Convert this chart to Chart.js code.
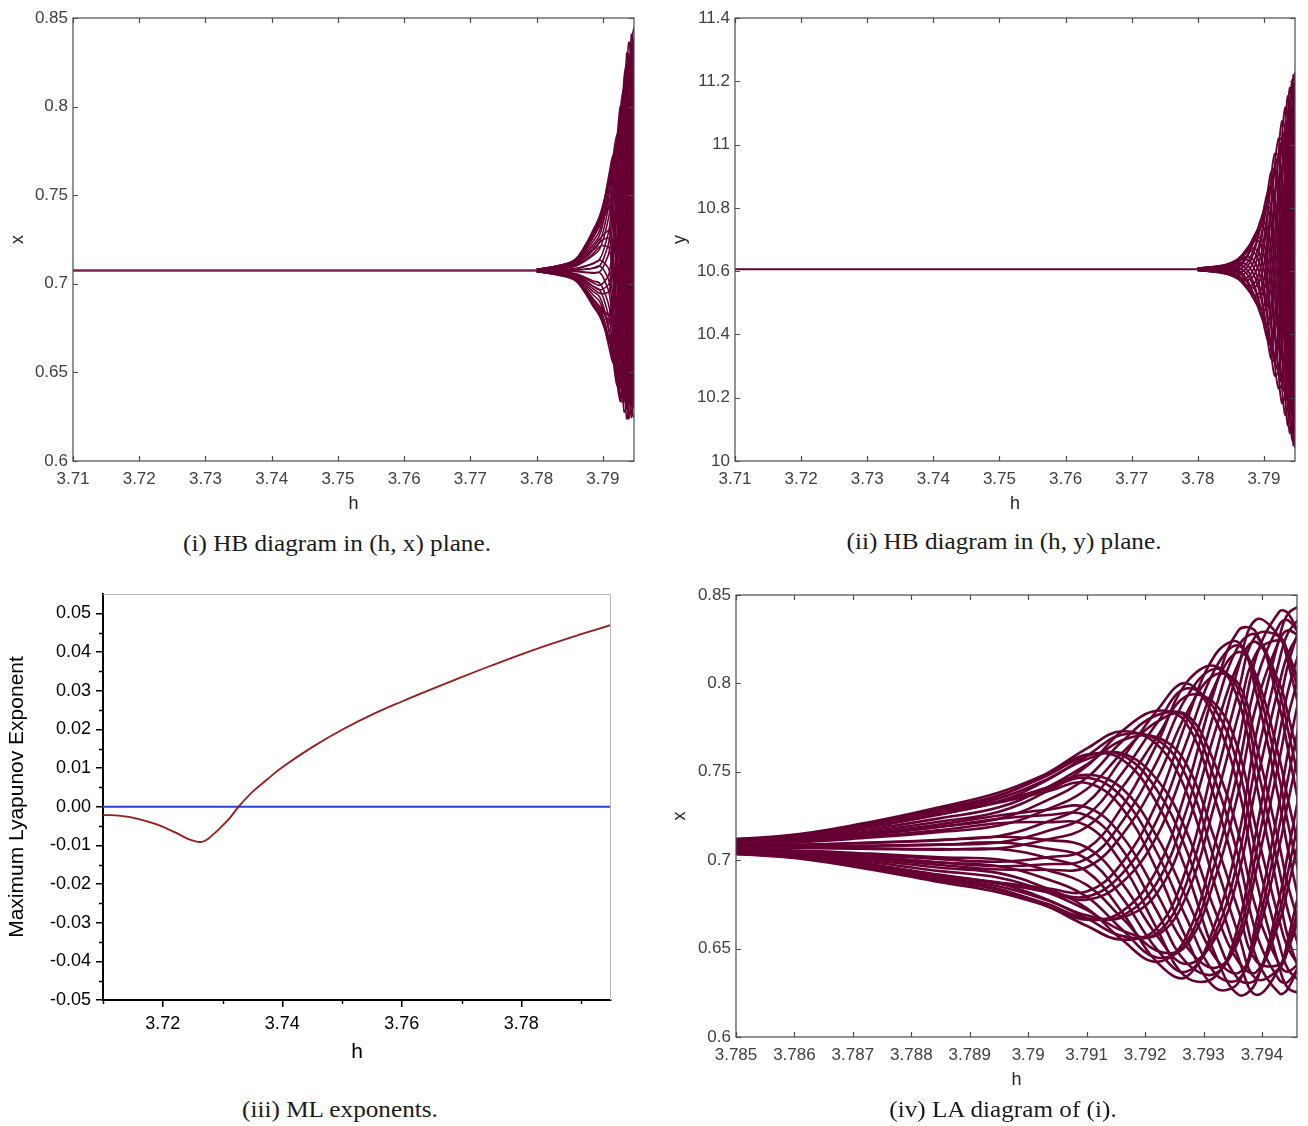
<!DOCTYPE html>
<html>
<head>
<meta charset="utf-8">
<title>HB diagrams</title>
<script src="https://cdn.jsdelivr.net/npm/chart.js@4.4.1/dist/chart.umd.min.js"></script>
<style>
  body { margin: 0; background: #fff; }
  .wrap { position: relative; width: 1308px; height: 1126px; overflow: hidden; background: #fff; }
  canvas { position: absolute; }
  .cap { position: absolute; width: 600px; text-align: center; font-family: "Liberation Serif", "DejaVu Serif", serif; font-size: 24px; line-height: 28px; color: #1a1a1a; transform: scaleX(1.05); }
</style>
</head>
<body>
<div class="wrap">
  <canvas id="hx" width="660" height="520" style="left:0;top:0"></canvas>
  <canvas id="hy" width="648" height="520" style="left:660px;top:0"></canvas>
  <canvas id="mle" width="660" height="500" style="left:0;top:570px"></canvas>
  <canvas id="la" width="648" height="530" style="left:660px;top:570px"></canvas>
  <div class="cap" style="left:37px;top:529px">(i) HB diagram in (h, x) plane.</div>
  <div class="cap" style="left:704px;top:527px">(ii) HB diagram in (h, y) plane.</div>
  <div class="cap" style="left:40px;top:1095px">(iii) ML exponents.</div>
  <div class="cap" style="left:703px;top:1095px">(iv) LA diagram of (i).</div>
</div>
<script>
//-------------------------- data: branches of the HB diagrams ----------------------------

const hGrid = [3.7800, 3.7836, 3.7858, 3.7873, 3.7885, 3.7895, 3.7903, 3.7910, 3.7916,
               3.7922, 3.7927, 3.7932, 3.7936, 3.7939, 3.7943, 3.79445, 3.7947]

// x values, one row per h in hGrid, 12 branches per row
const xBranchA = [
  [.7079,.7081,.7081,.7080,.7077,.7074,.7071,.7069,.7069,.7070,.7073,.7076],
  [.7094,.7104,.7106,.7100,.7088,.7072,.7058,.7048,.7046,.7052,.7065,.7080],
  [.7115,.7133,.7138,.7126,.7101,.7070,.7042,.7023,.7019,.7030,.7055,.7086],
  [.7164,.7207,.7216,.7189,.7134,.7064,.7000,.6957,.6948,.6975,.7030,.7100],
  [.7219,.7287,.7301,.7259,.7170,.7060,.6957,.6889,.6875,.6917,.7006,.7116],
  [.7274,.7363,.7383,.7326,.7209,.7063,.6927,.6837,.6818,.6874,.6991,.7137],
  [.7387,.7487,.7487,.7387,.7215,.7015,.6843,.6743,.6743,.6843,.7015,.7215],
  [.7531,.7631,.7597,.7437,.7196,.6937,.6729,.6629,.6663,.6823,.7064,.7323],
  [.7729,.7729,.7571,.7298,.6982,.6709,.6551,.6551,.6709,.6982,.7298,.7571],
  [.7845,.7655,.7325,.6945,.6615,.6425,.6425,.6615,.6945,.7325,.7655,.7845],
  [.7778,.7393,.6947,.6562,.6339,.6339,.6562,.6947,.7393,.7778,.8001,.8001],
  [.7344,.6856,.6466,.6278,.6342,.6642,.7096,.7584,.7974,.8162,.8098,.7798],
  [.6872,.6445,.6239,.6309,.6637,.7134,.7668,.8095,.8301,.8231,.7903,.7406],
  [.6451,.6239,.6311,.6649,.7160,.7710,.8149,.8361,.8289,.7951,.7440,.6891],
  [.6247,.6392,.6787,.7327,.7867,.8262,.8407,.8262,.7867,.7327,.6787,.6392],
  [.6275,.6559,.7051,.7619,.8111,.8395,.8395,.8111,.7619,.7051,.6559,.6275],
  [.6464,.6920,.7490,.8021,.8371,.8446,.8226,.7770,.7200,.6669,.6320,.6245]
]
const xBranchB = [
  [.7079,.7080,.7080,.7078,.7076,.7073,.7071,.7070,.7070,.7072,.7074,.7077],
  [.7097,.7102,.7100,.7092,.7079,.7066,.7055,.7050,.7052,.7060,.7073,.7086],
  [.7120,.7130,.7127,.7110,.7085,.7058,.7036,.7026,.7029,.7046,.7071,.7098],
  [.7176,.7200,.7192,.7154,.7098,.7037,.6988,.6964,.6972,.7010,.7067,.7128],
  [.7238,.7276,.7263,.7203,.7113,.7016,.6938,.6900,.6913,.6973,.7063,.7160],
  [.7299,.7349,.7332,.7253,.7133,.7004,.6901,.6851,.6868,.6947,.7067,.7196],
  [.7408,.7454,.7408,.7284,.7115,.6946,.6822,.6776,.6822,.6946,.7115,.7284],
  [.7541,.7571,.7483,.7300,.7072,.6860,.6719,.6689,.6777,.6960,.7188,.7401],
  [.7677,.7605,.7408,.7140,.6872,.6675,.6603,.6675,.6872,.7140,.7408,.7605],
  [.7695,.7458,.7135,.6812,.6575,.6488,.6575,.6812,.7135,.7458,.7695,.7782],
  [.7548,.7170,.6792,.6515,.6413,.6515,.6792,.7170,.7548,.7825,.7927,.7825],
  [.7111,.6711,.6448,.6391,.6557,.6900,.7329,.7729,.7992,.8049,.7883,.7540],
  [.6713,.6424,.6363,.6544,.6920,.7389,.7827,.8116,.8177,.7996,.7620,.7151],
  [.6430,.6367,.6553,.6940,.7423,.7873,.8170,.8234,.8047,.7660,.7177,.6727],
  [.6409,.6655,.7081,.7573,.7999,.8245,.8245,.7999,.7573,.7081,.6655,.6409],
  [.6499,.6852,.7335,.7818,.8171,.8300,.8171,.7818,.7335,.6852,.6499,.6370],
  [.6750,.7218,.7719,.8120,.8313,.8248,.7940,.7473,.6971,.6570,.6377,.6443]
]
const xBranchC = [
  [.7078,.7080,.7081,.7080,.7078,.7075,.7072,.7070,.7069,.7070,.7072,.7075],
  [.7090,.7100,.7104,.7100,.7090,.7076,.7062,.7052,.7048,.7052,.7062,.7076],
  [.7106,.7127,.7134,.7127,.7106,.7078,.7050,.7029,.7022,.7029,.7050,.7078],
  [.7146,.7192,.7209,.7192,.7146,.7082,.7019,.6972,.6955,.6972,.7019,.7082],
  [.7189,.7263,.7290,.7263,.7189,.7088,.6987,.6913,.6886,.6913,.6987,.7088],
  [.7234,.7332,.7368,.7332,.7234,.7100,.6966,.6868,.6832,.6868,.6966,.7100],
  [.7335,.7449,.7474,.7402,.7254,.7068,.6895,.6781,.6756,.6828,.6977,.7162],
  [.7466,.7589,.7589,.7466,.7253,.7007,.6794,.6672,.6672,.6794,.7007,.7253],
  [.7670,.7709,.7595,.7359,.7065,.6791,.6610,.6572,.6685,.6921,.7215,.7489],
  [.7820,.7683,.7399,.7045,.6714,.6497,.6450,.6587,.6871,.7225,.7556,.7773],
  [.7811,.7479,.7065,.6678,.6423,.6369,.6529,.6861,.7276,.7662,.7917,.7971],
  [.7451,.6989,.6589,.6358,.6358,.6589,.6989,.7451,.7851,.8083,.8083,.7851],
  [.7017,.6579,.6326,.6326,.6579,.7017,.7523,.7961,.8214,.8214,.7961,.7523],
  [.6589,.6329,.6329,.6589,.7040,.7560,.8011,.8272,.8272,.8011,.7560,.7040],
  [.6321,.6389,.6709,.7195,.7716,.8133,.8334,.8265,.7945,.7460,.6939,.6522],
  [.6313,.6517,.6940,.7470,.7963,.8288,.8357,.8153,.7730,.7200,.6707,.6382],
  [.6441,.6823,.7345,.7867,.8249,.8388,.8249,.7867,.7345,.6823,.6441,.6302]
]

// y values, same layout
const yBranchA = [
  [10.605,10.603,10.603,10.603,10.605,10.606,10.608,10.609,10.609,10.609,10.608,10.606],
  [10.596,10.594,10.596,10.600,10.606,10.612,10.616,10.618,10.616,10.612,10.606,10.600],
  [10.579,10.583,10.593,10.607,10.621,10.631,10.635,10.631,10.621,10.607,10.593,10.583],
  [10.556,10.578,10.608,10.638,10.660,10.668,10.660,10.638,10.608,10.578,10.556,10.548],
  [10.560,10.610,10.660,10.697,10.710,10.697,10.660,10.610,10.560,10.523,10.510,10.523],
  [10.612,10.687,10.742,10.762,10.742,10.687,10.612,10.537,10.482,10.462,10.482,10.537],
  [10.723,10.801,10.830,10.801,10.723,10.615,10.508,10.429,10.400,10.429,10.508,10.615],
  [10.869,10.908,10.869,10.763,10.618,10.473,10.367,10.328,10.367,10.473,10.618,10.763],
  [10.970,10.923,10.795,10.620,10.445,10.317,10.270,10.317,10.445,10.620,10.795,10.923],
  [10.966,10.822,10.624,10.427,10.282,10.229,10.282,10.427,10.624,10.822,10.966,11.019],
  [10.851,10.628,10.406,10.243,10.183,10.243,10.406,10.628,10.851,11.013,11.073,11.013],
  [10.631,10.389,10.211,10.146,10.211,10.389,10.631,10.874,11.051,11.116,11.051,10.874],
  [10.373,10.183,10.113,10.183,10.373,10.633,10.893,11.083,11.153,11.083,10.893,10.633],
  [10.162,10.089,10.162,10.362,10.634,10.907,11.106,11.179,11.106,10.907,10.634,10.362],
  [10.065,10.141,10.350,10.635,10.920,11.129,11.205,11.129,10.920,10.635,10.350,10.141],
  [10.128,10.343,10.635,10.928,11.142,11.220,11.142,10.928,10.635,10.343,10.128,10.050],
  [10.338,10.635,10.933,11.150,11.230,11.150,10.933,10.635,10.338,10.120,10.040,10.120]
]
const yBranchB = [
  [10.604,10.603,10.603,10.604,10.605,10.607,10.608,10.609,10.609,10.608,10.607,10.605],
  [10.596,10.596,10.599,10.603,10.609,10.614,10.616,10.616,10.614,10.609,10.603,10.599],
  [10.583,10.590,10.601,10.613,10.624,10.631,10.631,10.624,10.613,10.601,10.590,10.583],
  [10.571,10.594,10.622,10.645,10.659,10.659,10.645,10.622,10.594,10.571,10.557,10.557],
  [10.587,10.633,10.672,10.695,10.695,10.672,10.633,10.587,10.548,10.525,10.525,10.548],
  [10.646,10.705,10.740,10.740,10.705,10.646,10.578,10.519,10.485,10.485,10.519,10.578],
  [10.749,10.798,10.798,10.749,10.664,10.566,10.481,10.432,10.432,10.481,10.566,10.664],
  [10.865,10.865,10.798,10.684,10.552,10.438,10.372,10.372,10.438,10.552,10.684,10.798],
  [10.918,10.838,10.700,10.540,10.402,10.323,10.323,10.402,10.540,10.700,10.838,10.918],
  [10.870,10.714,10.534,10.378,10.288,10.288,10.378,10.534,10.714,10.870,10.960,10.960],
  [10.730,10.527,10.351,10.250,10.250,10.351,10.527,10.730,10.905,11.006,11.006,10.905],
  [10.520,10.329,10.219,10.219,10.329,10.520,10.742,10.933,11.043,11.043,10.933,10.742],
  [10.310,10.191,10.191,10.310,10.514,10.752,10.956,11.075,11.075,10.956,10.752,10.514],
  [10.171,10.171,10.295,10.510,10.758,10.973,11.097,11.097,10.973,10.758,10.510,10.295],
  [10.151,10.281,10.505,10.765,10.990,11.120,11.120,10.990,10.765,10.505,10.281,10.151],
  [10.271,10.502,10.768,10.999,11.132,11.132,10.999,10.768,10.502,10.271,10.138,10.138],
  [10.499,10.771,11.005,11.141,11.141,11.005,10.771,10.499,10.265,10.129,10.129,10.265]
]

// stable equilibrium before the Hopf point
const flatH = [3.71, 3.78]
const flatX = [0.7075, 0.7075]
const flatY = [10.606, 10.606]

//-------------------------- data: maximum Lyapunov exponent ------------------------------

const mleH = [3.710, 3.713, 3.716, 3.719, 3.722, 3.724, 3.7255, 3.7265, 3.7275, 3.729, 3.731, 3.7327,
              3.735, 3.7375, 3.740, 3.745, 3.750, 3.755, 3.760, 3.765, 3.770, 3.775, 3.780,
              3.785, 3.790, 3.795]
const mleVal = [-0.0021, -0.0024, -0.0032, -0.0046, -0.0066, -0.0082, -0.0090, -0.0091, -0.0084, -0.0064, -0.0033, 0.0000,
                0.0038, 0.0071, 0.0102, 0.0154, 0.0199, 0.0238, 0.0272, 0.0304, 0.0335, 0.0365, 0.0394,
                0.0421, 0.0446, 0.0470]
const zeroH = [3.71, 3.795]
const zeroVal = [0, 0]

//-------------------------- tick values ---------------------------------------------------

const hTicks = [3.71, 3.72, 3.73, 3.74, 3.75, 3.76, 3.77, 3.78, 3.79]
const xTicks = [0.6, 0.65, 0.7, 0.75, 0.8, 0.85]
const yTicks = [10, 10.2, 10.4, 10.6, 10.8, 11, 11.2, 11.4]
const mleHTicks = [3.72, 3.74, 3.76, 3.78]
const mleTicks = [-0.05, -0.04, -0.03, -0.02, -0.01, 0, 0.01, 0.02, 0.03, 0.04, 0.05]
const laHTicks = [3.785, 3.786, 3.787, 3.788, 3.789, 3.79, 3.791, 3.792, 3.793, 3.794]

//-------------------------- helpers -------------------------------------------------------

const maroon = '#660033'
const sans = '"Liberation Sans", Arial, sans-serif'

const branches = (rows, color, width) => {
  const sets = []
  for (let k = 0; k < rows[0].length; k++) {
    sets.push({
      data: hGrid.map((h, j) => ({ x: h, y: rows[j][k] })),
      borderColor: color,
      borderWidth: width,
      pointRadius: 0,
      tension: 0.4
    })
  }
  return sets
}

const line = (hs, vs, color, width) => ({
  data: hs.map((h, i) => ({ x: h, y: vs[i] })),
  borderColor: color,
  borderWidth: width,
  pointRadius: 0,
  tension: 0.4
})

const matlabLabel = v => String(+v.toFixed(3))
const useTicks = list => s => { s.ticks = list.map(v => ({ value: v })) }

// box with inward ticks on all four sides
const matlabBox = {
  id: 'matlabBox',
  afterDraw(chart) {
    const { ctx, chartArea: a, scales: { x, y } } = chart
    ctx.save()
    ctx.strokeStyle = '#4b4b4b'
    ctx.lineWidth = 1.2
    ctx.strokeRect(a.left, a.top, a.right - a.left, a.bottom - a.top)
    ctx.beginPath()
    x.ticks.forEach(t => {
      const p = Math.round(x.getPixelForValue(t.value)) + 0.5
      ctx.moveTo(p, a.bottom); ctx.lineTo(p, a.bottom - 5)
      ctx.moveTo(p, a.top); ctx.lineTo(p, a.top + 5)
    })
    y.ticks.forEach(t => {
      const p = Math.round(y.getPixelForValue(t.value)) + 0.5
      ctx.moveTo(a.left, p); ctx.lineTo(a.left + 5, p)
      ctx.moveTo(a.right, p); ctx.lineTo(a.right - 5, p)
    })
    ctx.stroke()
    ctx.restore()
  }
}

// minor ticks and light frame for the Lyapunov panel
const originMinor = {
  id: 'originMinor',
  afterDraw(chart) {
    const { ctx, chartArea: a, scales: { x, y } } = chart
    ctx.save()
    ctx.strokeStyle = '#b8b8b8'
    ctx.lineWidth = 1
    ctx.beginPath()
    ctx.moveTo(a.left, a.top + 0.5); ctx.lineTo(a.right - 0.5, a.top + 0.5); ctx.lineTo(a.right - 0.5, a.bottom)
    ctx.stroke()
    ctx.strokeStyle = '#000'
    ctx.lineWidth = 1.4
    ctx.beginPath()
    const minors = (sc) => {
      const t = sc.ticks.map(k => k.value)
      const step = t[1] - t[0]
      const out = []
      for (let v = t[0] - step / 2; v < sc.max - 1e-9; v += step) if (v > sc.min - 1e-9) out.push(v)
      return out
    }
    minors(x).forEach(v => {
      const p = Math.round(x.getPixelForValue(v)) + 0.5
      ctx.moveTo(p, a.bottom); ctx.lineTo(p, a.bottom + 4)
    })
    minors(y).forEach(v => {
      const p = Math.round(y.getPixelForValue(v)) + 0.5
      ctx.moveTo(a.left, p); ctx.lineTo(a.left - 4, p)
    })
    ctx.stroke()
    ctx.restore()
  }
}

const matlabOptions = o => ({
  responsive: false,
  animation: false,
  events: [],
  layout: { padding: o.pad },
  plugins: { legend: { display: false }, tooltip: { enabled: false } },
  scales: {
    x: {
      type: 'linear', min: o.xmin, max: o.xmax,
      afterBuildTicks: useTicks(o.xt),
      afterFit: s => { s.height = o.xh },
      grid: { display: false, drawTicks: false },
      border: { display: false },
      ticks: { padding: 8, color: '#404040', font: { family: sans, size: 17 }, callback: matlabLabel, autoSkip: false, maxRotation: 0 },
      title: { display: true, text: 'h', color: '#262626', font: { family: sans, size: 18 }, padding: { top: 0, bottom: o.hPad } }
    },
    y: {
      type: 'linear', min: o.ymin, max: o.ymax,
      afterBuildTicks: useTicks(o.yt),
      afterFit: s => { s.width = o.yw },
      grid: { display: false, drawTicks: false },
      border: { display: false },
      ticks: { padding: 5, color: '#404040', font: { family: sans, size: 17 }, callback: matlabLabel, autoSkip: false },
      title: { display: true, text: o.yTitle, color: '#262626', font: { family: sans, size: 18 }, padding: { top: o.vPad, bottom: 0 } }
    }
  }
})

//-------------------------- (i) HB diagram in (h, x) --------------------------------------

new Chart(document.getElementById('hx'), {
  type: 'line',
  data: {
    datasets: [
      line(flatH, flatX, '#7d2150', 2.6),
      ...branches(xBranchA, maroon, 1.6),
      ...branches(xBranchB, maroon, 1.6),
      ...branches(xBranchC, maroon, 1.6)
    ]
  },
  options: matlabOptions({
    pad: { left: 0, top: 18, right: 26, bottom: 0 },
    xmin: 3.71, xmax: 3.7947, xt: hTicks, xh: 59, hPad: 5,
    ymin: 0.6, ymax: 0.85, yt: xTicks, yw: 73, yTitle: 'x', vPad: 7
  }),
  plugins: [matlabBox]
})

//-------------------------- (ii) HB diagram in (h, y) -------------------------------------

new Chart(document.getElementById('hy'), {
  type: 'line',
  data: {
    datasets: [
      line(flatH, flatY, maroon, 2.2),
      ...branches(yBranchA, maroon, 1.9),
      ...branches(yBranchB, maroon, 1.9)
    ]
  },
  options: matlabOptions({
    pad: { left: 0, top: 18, right: 13, bottom: 0 },
    xmin: 3.71, xmax: 3.7947, xt: hTicks, xh: 59, hPad: 5,
    ymin: 10, ymax: 11.4, yt: yTicks, yw: 75, yTitle: 'y', vPad: 9
  }),
  plugins: [matlabBox]
})

//-------------------------- (iii) ML exponents --------------------------------------------

new Chart(document.getElementById('mle'), {
  type: 'line',
  data: {
    datasets: [
      line(mleH, mleVal, '#9b1c1c', 1.8),
      line(zeroH, zeroVal, '#2b3dd3', 2)
    ]
  },
  options: {
    responsive: false,
    animation: false,
    events: [],
    layout: { padding: { left: 0, top: 24, right: 49, bottom: 0 } },
    plugins: { legend: { display: false }, tooltip: { enabled: false } },
    scales: {
      x: {
        type: 'linear', min: 3.71, max: 3.795,
        afterBuildTicks: useTicks(mleHTicks),
        afterFit: s => { s.height = 70 },
        grid: { drawOnChartArea: false, drawTicks: true, tickLength: 7, color: '#000', lineWidth: 1.5 },
        border: { display: true, color: '#000', width: 2 },
        ticks: { padding: 6, color: '#000', font: { family: sans, size: 18 }, callback: v => v.toFixed(2), autoSkip: false, maxRotation: 0 },
        title: { display: true, text: 'h', color: '#000', font: { family: sans, size: 21 }, padding: { top: 0, bottom: 5 } }
      },
      y: {
        type: 'linear', min: -0.05, max: 0.055,
        afterBuildTicks: useTicks(mleTicks),
        afterFit: s => { s.width = 103 },
        grid: { drawOnChartArea: false, drawTicks: true, tickLength: 7, color: '#000', lineWidth: 1.5 },
        border: { display: true, color: '#000', width: 2 },
        ticks: { padding: 5, color: '#000', font: { family: sans, size: 18 }, callback: v => v.toFixed(2), autoSkip: false },
        title: { display: true, text: 'Maximum Lyapunov Exponent', color: '#000', font: { family: sans, size: 21 }, padding: { top: 5, bottom: 0 } }
      }
    }
  },
  plugins: [originMinor]
})

//-------------------------- (iv) LA diagram of (i) ----------------------------------------

new Chart(document.getElementById('la'), {
  type: 'line',
  data: {
    datasets: [
      ...branches(xBranchA, maroon, 2.6),
      ...branches(xBranchB, maroon, 2.6),
      ...branches(xBranchC, maroon, 2.6)
    ]
  },
  options: matlabOptions({
    pad: { left: 0, top: 25, right: 11, bottom: 0 },
    xmin: 3.785, xmax: 3.7946, xt: laHTicks, xh: 63, hPad: 9,
    ymin: 0.6, ymax: 0.85, yt: xTicks, yw: 76, yTitle: 'x', vPad: 9
  }),
  plugins: [matlabBox]
})
</script>
</body>
</html>
